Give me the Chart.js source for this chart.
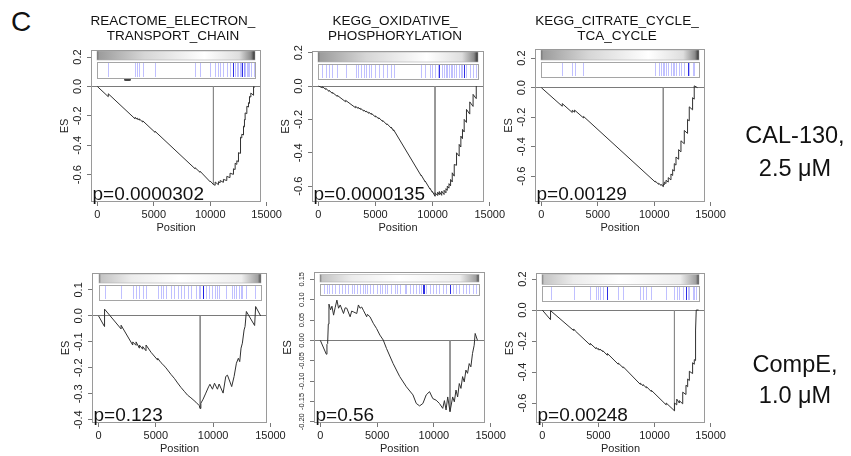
<!DOCTYPE html>
<html lang="en">
<head>
<meta charset="UTF-8">
<title>GSEA enrichment plots</title>
<script src="https://cdn.jsdelivr.net/npm/chart.js"></script>
<style>
  html, body { margin: 0; padding: 0; background: #fff; }
  body { width: 851px; height: 456px; position: relative; overflow: hidden;
         font-family: "Liberation Sans", Arial, sans-serif; color: #111; }
  canvas { position: absolute; }
  .txt { position: absolute; white-space: nowrap; }
</style>
</head>
<body>

<div class="txt" style="left:11px; top:8px; font-size:28px; line-height:28px;">C</div>
<div id="mark" style="position:absolute; left:124px; top:78px; width:7px; height:3px; background:#444; border-radius:2px;"></div>

<script>
// ---- data ----
const xTicks = [0, 5000, 10000, 15000];
const geneSets = [
  ["REACTOME_ELECTRON_", "TRANSPORT_CHAIN"],
  ["KEGG_OXIDATIVE_", "PHOSPHORYLATION"],
  ["KEGG_CITRATE_CYCLE_", "TCA_CYCLE"]
];
const treatments = [["CAL-130,", "2.5 μM"], ["CompE,", "1.0 μM"]];
const pValues = ["p=0.0000302", "p=0.0000135", "p=0.00129", "p=0.123", "p=0.56", "p=0.00248"];

const yTicksWide = [-0.6, -0.4, -0.2, 0, 0.2];
const yTicksMid = [-0.4, -0.3, -0.2, -0.1, 0, 0.1];
const yTicksFine = [-0.2, -0.15, -0.1, -0.05, 0, 0.05, 0.1, 0.15];

const listSizes = [13950, 13950, 13950, 14150, 13950, 13950];

// running enrichment score, [rank position, ES]
const curve1 = [[0,0],[960,-0.069],[975,-0.050],[3340,-0.220],[3345,-0.210],[3545,-0.224],[3550,-0.216],
  [3720,-0.229],[3725,-0.221],[4020,-0.242],[4025,-0.234],[5110,-0.312],[5115,-0.305],[8660,-0.560],[8665,-0.553],
  [9100,-0.584],[9105,-0.577],[9990,-0.648],[9995,-0.643],[10286,-0.667],[10430,-0.672],[10440,-0.650],
  [10720,-0.668],[10730,-0.648],[10870,-0.655],[10880,-0.640],[11160,-0.652],[11170,-0.632],[11460,-0.640],
  [11470,-0.612],[11750,-0.620],[11760,-0.590],[12050,-0.598],[12060,-0.560],[12200,-0.565],[12210,-0.522],
  [12350,-0.530],[12360,-0.505],[12495,-0.512],[12505,-0.450],[12640,-0.455],[12650,-0.405],[12700,-0.410],
  [12710,-0.345],[12790,-0.350],[12800,-0.325],[12940,-0.330],[12950,-0.270],[13025,-0.275],[13035,-0.225],
  [13085,-0.228],[13095,-0.180],[13235,-0.185],[13245,-0.135],[13380,-0.140],[13390,-0.110],[13470,-0.115],
  [13480,-0.068],[13590,-0.072],[13600,-0.045],[13690,-0.050],[13830,-0.060],[13840,-0.002],[13950,-0.005]];
const curve2 = [[0,0],[350,-0.010],[355,-0.004],[640,-0.020],[645,-0.014],[930,-0.032],[935,-0.026],
  [1220,-0.044],[1225,-0.038],[1650,-0.062],[1655,-0.056],[2380,-0.094],[2385,-0.086],[3250,-0.130],
  [3255,-0.122],[3480,-0.134],[3485,-0.128],[3690,-0.140],[3695,-0.134],[3975,-0.150],[3980,-0.144],
  [4175,-0.156],[4180,-0.150],[4410,-0.163],[4415,-0.157],[4640,-0.170],[4645,-0.164],[4990,-0.185],
  [4995,-0.179],[5280,-0.196],[5285,-0.190],[5625,-0.212],[5630,-0.206],[6000,-0.232],[6005,-0.226],
  [6385,-0.253],[6390,-0.247],[6580,-0.269],[6585,-0.262],[8990,-0.537],[8995,-0.533],[9340,-0.573],
  [9345,-0.569],[9775,-0.618],[9780,-0.614],[9975,-0.637],[9980,-0.632],[10210,-0.660],[10215,-0.640],
  [10440,-0.656],[10445,-0.636],[10585,-0.652],[10590,-0.632],[10790,-0.655],[10795,-0.630],[11000,-0.650],
  [11005,-0.625],[11165,-0.640],[11170,-0.615],[11280,-0.625],[11285,-0.600],[11430,-0.612],[11435,-0.585],
  [11570,-0.598],[11575,-0.560],[11715,-0.575],[11720,-0.520],[11890,-0.540],[11895,-0.470],[12090,-0.475],
  [12095,-0.400],[12320,-0.420],[12325,-0.350],[12470,-0.365],[12475,-0.300],[12610,-0.315],[12615,-0.260],
  [12760,-0.275],[12765,-0.200],[12960,-0.218],[12965,-0.140],[13250,-0.168],[13255,-0.095],[13540,-0.122],
  [13545,-0.050],[13810,-0.075],[13815,0.000],[13830,0.000]];
const curve3 = [[0,0],[1850,-0.126],[1855,-0.108],[2735,-0.168],[2740,-0.153],[2940,-0.166],[2945,-0.152],
  [3735,-0.205],[3740,-0.195],[10095,-0.640],[10100,-0.634],[10390,-0.655],[10395,-0.648],[10600,-0.662],
  [10605,-0.656],[10804,-0.670],[10810,-0.652],[10890,-0.658],[10895,-0.640],[11040,-0.650],[11045,-0.628],
  [11240,-0.640],[11245,-0.610],[11480,-0.625],[11485,-0.585],[11630,-0.595],[11635,-0.555],[11775,-0.565],
  [11780,-0.515],[11925,-0.525],[11930,-0.470],[12160,-0.485],[12165,-0.420],[12365,-0.435],[12370,-0.360],
  [12660,-0.380],[12665,-0.290],[12950,-0.310],[12955,-0.215],[13100,-0.225],[13105,-0.130],[13395,-0.150],
  [13400,-0.068],[13540,-0.078],[13545,0.012],[13840,0.000]];
const curve4 = [[0,0],[520,-0.041],[525,0.026],[1965,-0.050],[1970,-0.036],[2980,-0.112],[2985,-0.100],
  [3270,-0.113],[3275,-0.100],[3560,-0.124],[3565,-0.112],[3850,-0.128],[3855,-0.118],[4140,-0.134],
  [4145,-0.112],[4580,-0.140],[5160,-0.170],[5165,-0.163],[5450,-0.180],[5600,-0.186],[5885,-0.200],
  [6320,-0.225],[6610,-0.240],[6900,-0.258],[7190,-0.275],[7480,-0.290],[7770,-0.305],[8060,-0.315],
  [8500,-0.332],[8785,-0.345],[8870,-0.356],[8930,-0.336],[9130,-0.320],[9363,-0.297],[9600,-0.273],
  [9720,-0.263],[9943,-0.282],[10120,-0.259],[10378,-0.282],[10522,-0.262],[10870,-0.297],[11102,-0.233],
  [11250,-0.228],[11620,-0.272],[11830,-0.233],[12030,-0.182],[12200,-0.163],[12320,-0.176],[12435,-0.124],
  [12550,-0.105],[12700,-0.054],[12785,-0.041],[12900,0.017],[13620,-0.037],[13710,0.036],[14146,0.000]];
const curve5 = [[0,0],[524,-0.034],[580,-0.010],[641,-0.008],[700,0.040],[757,0.089],[900,0.075],
  [1020,0.084],[1165,0.062],[1300,0.080],[1457,0.099],[1602,0.079],[1748,0.087],[2039,0.066],[2185,0.080],
  [2331,0.079],[2622,0.058],[2760,0.072],[2913,0.070],[3205,0.066],[3350,0.087],[3496,0.079],[3640,0.082],
  [3787,0.074],[4079,0.058],[4137,0.064],[4370,0.058],[4661,0.042],[4953,0.029],[5244,0.013],[5535,0.001],
  [5827,-0.020],[6409,-0.057],[6992,-0.089],[7575,-0.114],[8157,-0.134],[8449,-0.155],[8740,-0.161],
  [9031,-0.155],[9323,-0.134],[9614,-0.126],[9905,-0.143],[10197,-0.147],[10488,-0.155],[10779,-0.167],
  [10925,-0.148],[11071,-0.171],[11216,-0.139],[11420,-0.175],[11653,-0.139],[11799,-0.151],[11945,-0.122],
  [12090,-0.139],[12236,-0.106],[12382,-0.118],[12527,-0.089],[12673,-0.102],[12819,-0.073],[12964,-0.081],
  [13110,-0.057],[13256,-0.065],[13401,-0.032],[13547,-0.012],[13634,0.017],[13838,0.000]];
const curve6 = [[0,0],[730,-0.062],[735,-0.004],[2790,-0.132],[2796,-0.122],[2942,-0.135],[4260,-0.225],
  [4267,-0.215],[4790,-0.250],[4797,-0.242],[5000,-0.256],[5003,-0.249],[5150,-0.259],[5153,-0.252],
  [5386,-0.268],[5390,-0.262],[5795,-0.292],[5798,-0.280],[6770,-0.350],[6773,-0.342],[7210,-0.373],
  [7212,-0.366],[8740,-0.480],[8743,-0.472],[8979,-0.489],[8983,-0.481],[9273,-0.502],[9277,-0.494],
  [9715,-0.526],[9718,-0.518],[11040,-0.612],[11044,-0.600],[11777,-0.650],[11785,-0.600],[11980,-0.612],
  [11985,-0.575],[12210,-0.600],[12215,-0.585],[12510,-0.605],[12515,-0.530],[12800,-0.545],[12805,-0.485],
  [12950,-0.495],[12955,-0.445],[13100,-0.455],[13105,-0.395],[13390,-0.410],[13395,-0.340],[13540,-0.350],
  [13545,-0.320],[13650,-0.326],[13660,-0.129],[13720,0.000],[13925,0.000]];

// gene set members along the ranked list
const hits1 = [975,3345,3550,3725,4025,5115,8665,9105,9995,10440,10730,10880,11170,11470,11760,12060,12210,
  12360,12505,12650,12710,12800,12950,13035,13095,13245,13390,13480,13600,13840];
const hits2 = [350,640,930,1220,1650,2380,3250,3480,3690,3975,4175,4410,4640,4990,5280,5625,6000,6385,6580,
  8990,9340,9775,9975,10210,10440,10585,10790,11000,11165,11280,11430,11570,11715,11890,12090,12320,12470,
  12610,12760,12960,13250,13540,13810];
const hits3 = [1850,2735,2940,3735,10095,10390,10600,10804,10890,11040,11240,11480,11630,11775,11925,12160,
  12365,12660,12950,13100,13395,13540];
const hits4 = [522,1968,2985,3273,3563,3853,4143,5163,5450,5600,5885,6320,6610,6900,7190,7480,7770,8060,
  8500,8785,8870,9073,9131,9363,9653,9943,10120,10378,10522,11102,11682,11830,11972,12262,12435,12551,12841,13624];
const hits5 = [291,583,728,1020,1311,1602,1894,2185,2476,2768,2972,3205,3496,3787,3933,4137,4370,4661,4953,
  5244,5390,5681,5885,6263,6555,6759,6992,7429,7575,7866,8157,8449,8682,8886,9031,9090,9323,9614,9905,
  10197,10488,10779,11071,11420,11653,11945,12236,12527,12819,13110,13401,13693];
const hits6 = [733,2796,4267,4797,5003,5150,5386,5798,6770,7212,8743,8979,9273,9715,11040,11777,11983,
  12213,12513,12803,12953,13103,13393,13543,13655];
const strongHits = [[12060,12800],[10585,12760],[12950],[9073,9131],[9031,9090,11420],[5798,12803]];

// leading-edge position and its enrichment score
const peaks = [[10286,-0.667],[10210,-0.660],[10804,-0.670],[8870,-0.356],[11420,-0.175],[11777,-0.650]];

// ---- layout ----
const FONT = '"Liberation Sans", Arial, sans-serif';
Chart.defaults.font.family = FONT;

const barTop = [[0,'#5a5a5a'],[0.012,'#9c9c9c'],[0.3,'#d6d6d6'],[0.68,'#ffffff'],[0.9,'#dedede'],[0.975,'#8a8a8a'],[1,'#2a2a2a']];
const barBottom = [[0,'#6a6a6a'],[0.012,'#c4c4c4'],[0.2,'#ececec'],[0.5,'#ffffff'],[0.88,'#eeeeee'],[0.98,'#a0a0a0'],[1,'#444']];

const panels = [
  { box: [91, 50, 261, 202],  x: [-560, 14500], y: [-0.786, 0.248], ticks: yTicksWide, dec: 1, tf: 11, bar: [1, 10, 12, 28], stops: barTop },
  { box: [312, 51, 484, 202], x: [-560, 14500], y: [-0.695, 0.210], ticks: yTicksWide, dec: 1, tf: 11, bar: [1, 11, 13, 28], stops: barTop },
  { box: [535, 49, 705, 202], x: [-560, 14500], y: [-0.775, 0.262], ticks: yTicksWide, dec: 1, tf: 11, bar: [1, 11, 13, 28], stops: barTop },
  { box: [92, 273, 267, 423], x: [-570, 14700], y: [-0.412, 0.165], ticks: yTicksMid, dec: 1, tf: 11, bar: [1, 10, 12, 27], stops: barBottom },
  { box: [314, 272, 485, 423], x: [-560, 14500], y: [-0.203, 0.168], ticks: yTicksFine, dec: 2, tf: 7.5, bar: [2.5, 10, 12, 23], stops: barBottom },
  { box: [536, 273, 705, 423], x: [-560, 14500], y: [-0.729, 0.239], ticks: yTicksWide, dec: 1, tf: 11, bar: [1.5, 11.5, 13, 28], stops: barBottom }
];
const curves = [curve1, curve2, curve3, curve4, curve5, curve6];
const hitLists = [hits1, hits2, hits3, hits4, hits5, hits6];

const AXIS_W = 45, PAD_T = 10, PAD_R = 24, XAXIS_H = 34;

const gseaDecor = {
  id: 'gseaDecor',
  beforeDatasetsDraw(chart, args, o) {
    const { ctx, chartArea: a, scales: { x } } = chart;
    const x0 = Math.round(x.getPixelForValue(0)), x1 = Math.round(x.getPixelForValue(o.n));
    ctx.save();
    const g = ctx.createLinearGradient(x0, 0, x1, 0);
    o.stops.forEach(s => g.addColorStop(s[0], s[1]));
    ctx.fillStyle = g;
    ctx.fillRect(x0, a.top + o.bar[0], x1 - x0, o.bar[1] - o.bar[0]);
    ctx.strokeStyle = '#b0b0b0';
    ctx.lineWidth = 0.6;
    ctx.strokeRect(x0, a.top + o.bar[0], x1 - x0, o.bar[1] - o.bar[0]);

    const h0 = Math.round(a.top + o.bar[2]), h1 = Math.round(a.top + o.bar[3]);
    ctx.fillStyle = '#fff';
    ctx.fillRect(x0, h0, x1 - x0, h1 - h0);
    ctx.lineWidth = 1;
    const drawHit = (h, col) => {
      const px = Math.round(x.getPixelForValue(h)) + 0.5;
      ctx.strokeStyle = col;
      ctx.beginPath(); ctx.moveTo(px, h0 + 1); ctx.lineTo(px, h1 - 1); ctx.stroke();
    };
    o.hits.forEach(h => drawHit(h, 'rgba(90,90,255,0.38)'));
    o.strong.forEach(h => drawHit(h, 'rgba(30,30,225,0.9)'));
    ctx.strokeStyle = '#a5a5a5';
    ctx.strokeRect(x0 + 0.5, h0 + 0.5, x1 - x0, h1 - h0);
    ctx.restore();
  },
  afterDatasetsDraw(chart, args, o) {
    const { ctx, chartArea: a } = chart;
    ctx.save();
    ctx.strokeStyle = '#9a9a9a';
    ctx.lineWidth = 1;
    ctx.strokeRect(a.left + 0.5, a.top + 0.5, a.right - a.left - 1, a.bottom - a.top - 1);
    ctx.font = '19px ' + FONT;
    ctx.fillStyle = '#111';
    ctx.textBaseline = 'alphabetic';
    ctx.textAlign = 'left';
    ctx.fillText(o.label, a.left + 1.5, a.bottom - 2);
    ctx.restore();
  }
};

panels.forEach((p, i) => {
  const [l, t, r, b] = p.box;
  const cv = document.createElement('canvas');
  const w = (r - l) + AXIS_W + PAD_R, h = (b - t) + PAD_T + XAXIS_H;
  cv.width = w; cv.height = h;
  cv.style.left = (l - AXIS_W) + 'px';
  cv.style.top = (t - PAD_T) + 'px';
  cv.style.width = w + 'px'; cv.style.height = h + 'px';
  document.body.appendChild(cv);

  const tickFont = { family: FONT, size: 11 };
  new Chart(cv, {
    type: 'line',
    data: {
      datasets: [
        {
          data: curves[i].map(d => ({ x: d[0], y: d[1] })),
          borderColor: '#303030', borderWidth: 1, pointRadius: 0, tension: 0
        },
        {
          data: [{ x: peaks[i][0], y: 0 }, { x: peaks[i][0], y: peaks[i][1] }],
          borderColor: '#8a8a8a', borderWidth: 1, pointRadius: 0
        }
      ]
    },
    options: {
      responsive: false,
      animation: false,
      devicePixelRatio: 1,
      layout: { padding: { left: 0, top: PAD_T, right: PAD_R, bottom: 0 } },
      plugins: {
        legend: { display: false },
        tooltip: { enabled: false },
        gseaDecor: { n: listSizes[i], bar: p.bar, stops: p.stops, hits: hitLists[i], strong: strongHits[i], label: pValues[i] }
      },
      scales: {
        x: {
          type: 'linear', min: p.x[0], max: p.x[1],
          afterBuildTicks: s => { s.ticks = xTicks.map(v => ({ value: v })); },
          afterFit: s => { s.height = XAXIS_H; },
          border: { display: false },
          grid: { drawOnChartArea: false, tickLength: 4, tickColor: '#777' },
          ticks: { callback: v => String(v), font: tickFont, color: '#222', maxRotation: 0, autoSkip: false, padding: 2 },
          title: { display: true, text: 'Position', font: tickFont, color: '#222', padding: { top: 0, bottom: 1.5 } }
        },
        y: {
          type: 'linear', min: p.y[0], max: p.y[1],
          afterBuildTicks: s => { s.ticks = p.ticks.map(v => ({ value: v })); },
          afterFit: s => { s.width = AXIS_W; },
          border: { display: false },
          grid: {
            color: c => (c.tick && c.tick.value === 0) ? '#7a7a7a' : 'rgba(0,0,0,0)',
            tickColor: '#777', tickLength: 4, lineWidth: 1
          },
          ticks: {
            callback: v => v.toFixed(p.dec), font: { family: FONT, size: p.tf }, color: '#222',
            minRotation: 90, maxRotation: 90, crossAlign: 'center', padding: 0, autoSkip: false
          },
          title: { display: true, text: 'ES', font: tickFont, color: '#222', padding: { top: 12, bottom: 0 } }
        }
      }
    },
    plugins: [gseaDecor]
  });
});

// gene set titles over the top row
panels.slice(0, 3).forEach((p, i) => {
  const d = document.createElement('div');
  d.className = 'txt';
  const cx = (p.box[0] + p.box[2]) / 2 - 3;
  d.style.cssText += `left:${cx - 110}px; width:220px; top:12.5px; text-align:center; font-size:13.5px; line-height:15.3px;`;
  d.innerHTML = geneSets[i].join('<br>');
  document.body.appendChild(d);
});

// treatment labels on the right
[[119.4, 33], [349, 31]].forEach((s, i) => {
  const d = document.createElement('div');
  d.className = 'txt';
  d.style.cssText += `left:720px; width:150px; top:${s[0]}px; text-align:center; font-size:23.5px; line-height:${s[1]}px;`;
  d.innerHTML = treatments[i].join('<br>');
  document.body.appendChild(d);
});
</script>
</body>
